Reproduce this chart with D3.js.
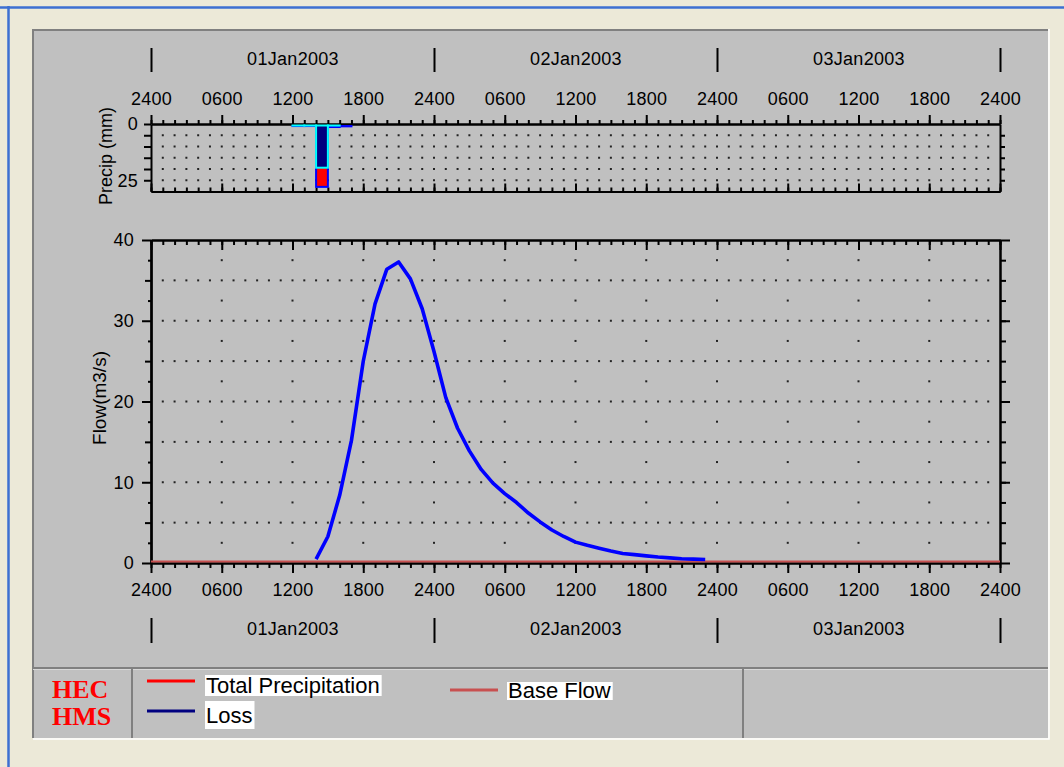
<!DOCTYPE html>
<html>
<head>
<meta charset="utf-8">
<script src="https://cdn.jsdelivr.net/npm/d3@7"></script>
<style>
  html, body { margin: 0; padding: 0; background: #ECE9D8; }
  svg { display: block; }
  text { font-family: "Liberation Sans", Arial, sans-serif; fill: #000; }
</style>
</head>
<body>
<svg id="chart" width="1064" height="767"></svg>
<script>
// ---------- DATA ----------
const dayLabels = ["01Jan2003", "02Jan2003", "03Jan2003"];
const tickLabels = ["2400","0600","1200","1800","2400","0600","1200","1800","2400","0600","1200","1800","2400"];

// hours since 01Jan2003 00:00
const precipHours = [12, 13, 14, 15, 16];
const totalPrecip = [0, 0, 27.5, 0.9, 0.6];
const lossHours = [12, 13, 14, 15];
const lossValues = [0, 0, 19.2, 0.4];

const flowHours = [14, 15, 16, 17, 18, 19, 20, 21, 22, 23, 24, 25, 26, 27, 28, 29, 30, 31, 32, 33, 34, 35, 36, 37, 38, 39, 40, 41, 42, 43, 44, 45, 46, 47];
const flowValues = [0.3, 3.1, 8.2, 15.0, 24.8, 31.9, 36.2, 37.1, 35.0, 31.3, 26.0, 20.3, 16.5, 13.7, 11.4, 9.7, 8.4, 7.3, 6.0, 4.9, 3.9, 3.1, 2.4, 2.0, 1.65, 1.3, 1.0, 0.85, 0.7, 0.55, 0.45, 0.35, 0.3, 0.25];
const baseFlowHours = [0, 72];
const baseFlowValues = [0, 0];

const legendItems = ["Total Precipitation", "Loss", "Base Flow"];

// ---------- SETUP ----------
const svg = d3.select("#chart");
const W = 1064, H = 767;

svg.append("rect").attr("width", W).attr("height", H).attr("fill", "#ECE9D8");
// window blue edges
svg.append("line").attr("x1", 0).attr("x2", W).attr("y1", 7.5).attr("y2", 7.5).attr("stroke", "#3D6FD2").attr("stroke-width", 2.5);
svg.append("line").attr("x1", 8.5).attr("x2", 8.5).attr("y1", 6).attr("y2", H).attr("stroke", "#3D6FD2").attr("stroke-width", 2.5);

// gray panel
svg.append("rect").attr("x", 32).attr("y", 29).attr("width", 1016).attr("height", 709).attr("fill", "#C0C0C0");
svg.append("path").attr("d", "M33,738 V30 H1048").attr("fill", "none").attr("stroke", "#808080").attr("stroke-width", 2);
svg.append("path").attr("d", "M33,739 H1049 V29").attr("fill", "none").attr("stroke", "#FFFFFF").attr("stroke-width", 1.5);

// legend area dividers
svg.append("line").attr("x1", 33).attr("x2", 1048).attr("y1", 668).attr("y2", 668).attr("stroke", "#808080").attr("stroke-width", 2);
svg.append("line").attr("x1", 33).attr("x2", 1048).attr("y1", 669.5).attr("y2", 669.5).attr("stroke", "#D8D8D8").attr("stroke-width", 1);
[132, 743].forEach(xx => {
  svg.append("line").attr("x1", xx).attr("x2", xx).attr("y1", 669).attr("y2", 738).attr("stroke", "#808080").attr("stroke-width", 2);
});

// ---------- SCALES ----------
const x = d3.scaleLinear().domain([0, 72]).range([151, 1000]);
const yP = d3.scaleLinear().domain([0, 30]).range([124, 191.5]);
const yF = d3.scaleLinear().domain([0, 40]).range([563, 240]);

const hourly = d3.range(0, 73);
const sixHourly = d3.range(0, 73, 6);
const innerHours = d3.range(1, 72);

function styleAxis(g) {
  g.selectAll("path.domain").attr("stroke", "#000").attr("stroke-width", 2);
  g.selectAll(".tick line").attr("stroke", "#000").attr("stroke-width", 2);
  g.selectAll("text").style("font-size", "18px").style("letter-spacing", "0.3px").attr("font-family", null).attr("fill", "#000");
}

// ---------- GRID DOTS ----------
const dots = svg.append("g");
function addDots(hours, vals, yScale) {
  vals.forEach(v => hours.forEach(h => {
    dots.append("rect").attr("x", x(h) - 1).attr("y", yScale(v) - 1).attr("width", 2).attr("height", 2).attr("fill", "#222");
  }));
}
addDots(innerHours, [5, 10, 15, 20, 25], yP);
addDots(innerHours, [5, 10, 15, 20, 25, 30, 35], yF);
addDots(d3.range(6, 72, 6), [2.5, 7.5, 12.5, 17.5, 22.5, 27.5, 32.5, 37.5], yF);

// ---------- PRECIP AXES ----------
let g;
g = svg.append("g").attr("transform", `translate(0,${yP(0)})`)
  .call(d3.axisTop(x).tickValues(hourly).tickSize(4).tickSizeOuter(0).tickFormat(""));
styleAxis(g);
g = svg.append("g").attr("transform", `translate(0,${yP(0)})`)
  .call(d3.axisTop(x).tickValues(sixHourly).tickSize(9).tickSizeOuter(0).tickPadding(10).tickFormat((d, i) => tickLabels[i]));
styleAxis(g);
g = svg.append("g").attr("transform", `translate(0,${yP(30)})`)
  .call(d3.axisTop(x).tickValues(hourly).tickSize(4).tickSizeOuter(0).tickFormat(""));
styleAxis(g);
g = svg.append("g").attr("transform", `translate(0,${yP(30)})`)
  .call(d3.axisTop(x).tickValues(sixHourly).tickSize(8).tickSizeOuter(0).tickFormat(""));
styleAxis(g);
g = svg.append("g").attr("transform", `translate(${x(0)},0)`)
  .call(d3.axisLeft(yP).tickValues([0, 5, 10, 15, 20, 25]).tickSize(7).tickSizeOuter(0).tickPadding(6)
    .tickFormat(d => (d === 0 || d === 25) ? String(d) : ""));
styleAxis(g);
g = svg.append("g").attr("transform", `translate(${x(72)},0)`)
  .call(d3.axisRight(yP).tickValues([5, 10, 15, 20, 25]).tickSize(5).tickSizeOuter(0).tickFormat(""));
styleAxis(g);

// ---------- PRECIP BARS (drawn just beneath the top axis line) ----------
const pg = svg.append("g").attr("transform", "translate(0,2)");
pg.selectAll("rect.tot").data(precipHours).join("rect")
  .attr("x", h => x(h)).attr("width", h => x(h + 1) - x(h))
  .attr("y", yP(0)).attr("height", (h, i) => Math.max(0.05, yP(totalPrecip[i]) - yP(0) - 1))
  .attr("fill", "#FF0000").attr("stroke", "#0000FF").attr("stroke-width", 2);
pg.selectAll("rect.loss").data(lossHours).join("rect")
  .attr("x", h => x(h)).attr("width", h => x(h + 1) - x(h))
  .attr("y", yP(0) - 0.5).attr("height", (h, i) => Math.max(0.05, yP(lossValues[i]) - yP(0) - 1))
  .attr("fill", "#000080").attr("stroke", "#00FFFF").attr("stroke-width", 2);

// top date axis
g = svg.append("g").attr("transform", "translate(0,48)")
  .call(d3.axisBottom(x).tickValues([0, 24, 48, 72]).tickSize(24).tickFormat(""));
g.select("path.domain").remove();
styleAxis(g);
g = svg.append("g").attr("transform", "translate(0,59)")
  .call(d3.axisBottom(x).tickValues([12, 36, 60]).tickSize(0).tickPadding(0).tickFormat((d, i) => dayLabels[i]));
g.select("path.domain").remove();
styleAxis(g);
g.selectAll("text").attr("y", 0).attr("dy", "0.36em");

// ---------- FLOW AXES ----------
g = svg.append("g").attr("transform", `translate(0,${yF(40)})`)
  .call(d3.axisBottom(x).tickValues(hourly).tickSize(5).tickSizeOuter(0).tickFormat(""));
styleAxis(g);
g = svg.append("g").attr("transform", `translate(0,${yF(40)})`)
  .call(d3.axisBottom(x).tickValues(sixHourly).tickSize(10).tickSizeOuter(0).tickFormat(""));
styleAxis(g);
g = svg.append("g").attr("transform", `translate(0,${yF(0)})`)
  .call(d3.axisBottom(x).tickValues(hourly).tickSize(5).tickSizeOuter(0).tickFormat(""));
styleAxis(g);
g = svg.append("g").attr("transform", `translate(0,${yF(0)})`)
  .call(d3.axisBottom(x).tickValues(sixHourly).tickSize(10).tickSizeOuter(0).tickPadding(10).tickFormat((d, i) => tickLabels[i]));
styleAxis(g);

g = svg.append("g").attr("transform", `translate(${x(0)},0)`)
  .call(d3.axisLeft(yF).tickValues(d3.range(2.5, 40, 5)).tickSize(3).tickSizeOuter(0).tickFormat(""));
styleAxis(g);
g = svg.append("g").attr("transform", `translate(${x(0)},0)`)
  .call(d3.axisLeft(yF).tickValues([5, 15, 25, 35]).tickSize(6).tickSizeOuter(0).tickFormat(""));
styleAxis(g);
g = svg.append("g").attr("transform", `translate(${x(0)},0)`)
  .call(d3.axisLeft(yF).tickValues([0, 10, 20, 30, 40]).tickSize(9).tickSizeOuter(0).tickPadding(8).tickFormat(d3.format("d")));
styleAxis(g);
g = svg.append("g").attr("transform", `translate(${x(72)},0)`)
  .call(d3.axisRight(yF).tickValues(d3.range(2.5, 40, 2.5)).tickSize(6).tickSizeOuter(0).tickFormat(""));
styleAxis(g);
g = svg.append("g").attr("transform", `translate(${x(72)},0)`)
  .call(d3.axisRight(yF).tickValues([0, 10, 20, 30, 40]).tickSize(10).tickSizeOuter(0).tickFormat(""));
styleAxis(g);

// bottom date axis
g = svg.append("g").attr("transform", "translate(0,618)")
  .call(d3.axisBottom(x).tickValues([0, 24, 48, 72]).tickSize(25).tickFormat(""));
g.select("path.domain").remove();
styleAxis(g);
g = svg.append("g").attr("transform", "translate(0,629)")
  .call(d3.axisBottom(x).tickValues([12, 36, 60]).tickSize(0).tickPadding(0).tickFormat((d, i) => dayLabels[i]));
g.select("path.domain").remove();
styleAxis(g);
g.selectAll("text").attr("y", 0).attr("dy", "0.36em");

// axis titles
svg.append("text").attr("transform", "translate(112,156) rotate(-90)").attr("text-anchor", "middle")
  .style("font-size", "18px").text("Precip (mm)");
svg.append("text").attr("transform", "translate(106,398) rotate(-90)").attr("text-anchor", "middle")
  .style("font-size", "19px").text("Flow(m3/s)");

// ---------- FLOW LINES ----------
const line = d3.line().x(d => x(d[0])).y(d => yF(d[1]));
svg.append("path").datum(baseFlowHours.map((h, i) => [h, baseFlowValues[i]]))
  .attr("d", line).attr("transform", "translate(0,-1.5)").attr("fill", "none").attr("stroke", "#C85050").attr("stroke-width", 2);
svg.append("path").datum(flowHours.map((h, i) => [h, flowValues[i]]))
  .attr("d", line).attr("transform", "translate(0,-1.5)").attr("fill", "none").attr("stroke", "#0000FF").attr("stroke-width", 3.6).attr("stroke-linejoin", "round");

// ---------- LEGEND ----------
svg.append("text").attr("x", 52).attr("y", 698)
  .style("font-family", "'Liberation Serif', serif").style("font-size", "26px").style("font-weight", "bold").style("fill", "#FF0000").text("HEC");
svg.append("text").attr("x", 52).attr("y", 725)
  .style("font-family", "'Liberation Serif', serif").style("font-size", "26px").style("font-weight", "bold").style("fill", "#FF0000").text("HMS");

const legend = [
  { label: legendItems[0], color: "#FF0000", lx: 147, ly: 681, tx: 205, box: [675, 21], base: 693 },
  { label: legendItems[1], color: "#000080", lx: 147, ly: 711, tx: 205, box: [701, 28], base: 723 },
  { label: legendItems[2], color: "#C85050", lx: 450, ly: 690, tx: 507, box: [682, 18], base: 698 }
];
legend.forEach(d => {
  svg.append("line").attr("x1", d.lx).attr("x2", d.lx + 48).attr("y1", d.ly).attr("y2", d.ly)
    .attr("stroke", d.color).attr("stroke-width", 3);
  const t = svg.append("text").attr("x", d.tx + 1).attr("y", d.base).style("font-size", "22px").text(d.label);
  const w = t.node().getComputedTextLength();
  svg.insert("rect", () => t.node()).attr("x", d.tx).attr("y", d.box[0]).attr("width", w + 3).attr("height", d.box[1]).attr("fill", "#FFFFFF");
});
</script>
</body>
</html>
